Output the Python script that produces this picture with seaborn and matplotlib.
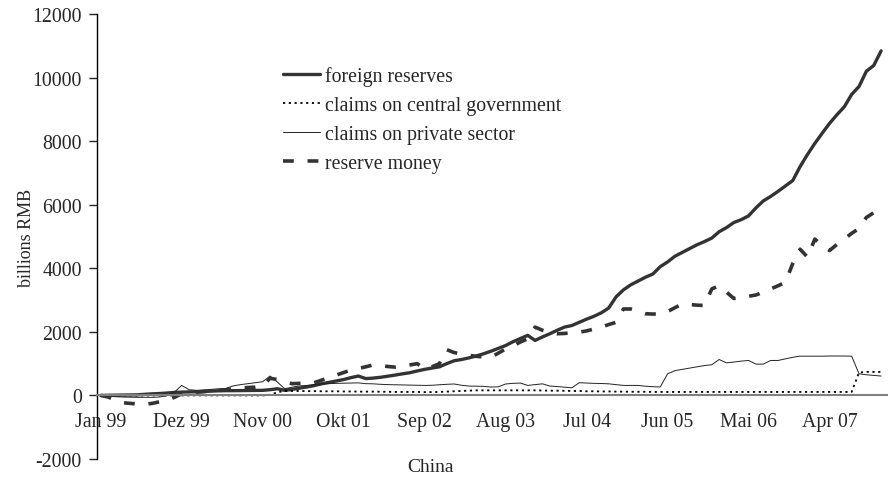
import numpy as np
import pandas as pd
import matplotlib
matplotlib.use("Agg")
import matplotlib.pyplot as plt
import seaborn as sns

# monthly data Jan 99 .. Nov 07, billions RMB
foreign_reserves = [
    0, 5, 8, 12, 15, 20, 35, 50, 60, 75, 95, 105, 110, 115, 125, 135, 145, 150,
    150, 152, 155, 158, 160, 180, 210, 160, 190, 230, 265, 310, 365, 410, 455, 500,
    560, 610, 530, 545, 570, 605, 640, 680, 715, 770, 820, 860, 900, 1000, 1090, 1130,
    1180, 1240, 1310, 1390, 1480, 1570, 1690, 1790, 1890, 1730, 1840, 1940, 2050, 2150,
    2200, 2300, 2400, 2490, 2600, 2750, 3100, 3320, 3480, 3600, 3720, 3820, 4050, 4200,
    4380, 4500, 4620, 4740, 4840, 4950, 5150, 5280, 5440, 5530, 5650, 5900, 6120, 6260,
    6420, 6590, 6760, 7200, 7580, 7930, 8250, 8560, 8830, 9080, 9470, 9720, 10200, 10380,
    10840]
claims_central_gov = [
    0, 0, 0, 0, 0, 0, 0, 0, 0, 0, 0, 0, 0, 0, 0, 0, 0, 0,
    0, 0, 0, 0, 0, 20, 100, 140, 140, 140, 135, 135, 130, 130, 130, 125, 125, 120,
    120, 120, 115, 115, 110, 110, 110, 110, 105, 105, 110, 120, 130, 140, 150, 160,
    160, 160, 160, 160, 160, 160, 160, 160, 155, 150, 150, 145, 140, 140, 130, 130,
    125, 125, 120, 120, 115, 115, 115, 110, 110, 110, 110, 110, 110, 110, 110, 110,
    110, 110, 110, 110, 110, 110, 110, 110, 110, 110, 110, 110, 110, 110, 110, 110,
    110, 110, 110, 720, 740, 740, 740]
claims_private = [
    0, -20, -40, -50, -55, -60, -60, -60, -50, -10, 100, 315, 180, 160, 170, 190, 210, 220,
    300, 340, 370, 400, 430, 610, 420, 210, 260, 300, 315, 340, 365, 370, 380, 385,
    390, 395, 370, 365, 350, 340, 335, 330, 325, 320, 315, 320, 335, 350, 360, 320,
    295, 290, 285, 265, 270, 360, 380, 390, 315, 340, 365, 295, 280, 260, 240, 400,
    390, 380, 375, 365, 340, 315, 315, 315, 290, 275, 265, 680, 780, 820, 860, 900,
    940, 965, 1130, 1025, 1050, 1080, 1100, 985, 985, 1100, 1100, 1150, 1200, 1235, 1235, 1235,
    1235, 1240, 1240, 1240, 1235, 680, 650, 630, 610]
reserve_money = [
    0, -50, -150, -230, -250, -270, -280, -250, -200, -155, -60, 50, 80, 100, 120, 140, 150, 180,
    210, 230, 250, 260, 300, 540, 500, 430, 370, 380, 390, 400, 480, 560, 640, 720,
    800, 850, 900, 960, 940, 910, 890, 920, 960, 1000, 820, 900, 1000, 1440, 1350, 1300,
    1260, 1230, 1210, 1200, 1330, 1460, 1560, 1680, 1780, 2150, 2050, 1980, 1940, 1950,
    1970, 1990, 2030, 2090, 2150, 2230, 2300, 2720, 2720, 2650, 2570, 2560, 2565, 2640,
    2760, 2880, 2860, 2840, 2830, 3350, 3450, 3250, 3050, 3080, 3120, 3160, 3250, 3350,
    3450, 3560, 4150, 4600, 4350, 4920, 4700, 4560, 4750, 4920, 5100, 5250, 5600, 5750,
    6070]

tick_labels = ['Jan 99', 'Dez 99', 'Nov 00', 'Okt 01', 'Sep 02', 'Aug 03',
               'Jul 04', 'Jun 05', 'Mai 06', 'Apr 07']
tick_idx = np.arange(len(tick_labels)) * 11

sns.set_style("white")
plt.rcParams['font.family'] = ['Liberation Serif', 'DejaVu Serif']
plt.rcParams['axes.unicode_minus'] = False

month = np.arange(len(foreign_reserves))
df = pd.DataFrame({
    'month': month,
    'foreign reserves': foreign_reserves,
    'claims on central government': claims_central_gov,
    'claims on private sector': claims_private,
    'reserve money': reserve_money,
})

fig = plt.figure(figsize=(8.89, 4.81), dpi=100)
ax = fig.add_axes([97 / 889, 21 / 481, 790 / 889, 445 / 481])

dark = '#333333'
sns.lineplot(data=df, x='month', y='foreign reserves', ax=ax, color=dark,
             linewidth=2.4, label='foreign reserves')
sns.lineplot(data=df, x='month', y='claims on central government', ax=ax, color='black',
             linewidth=1.3, linestyle=(0, (1.2, 2.0)), label='claims on central government')
sns.lineplot(data=df, x='month', y='claims on private sector', ax=ax, color='#222222',
             linewidth=0.7, label='claims on private sector')
sns.lineplot(data=df, x='month', y='reserve money', ax=ax, color=dark,
             linewidth=2.6, linestyle=(0, (3, 3.8)), label='reserve money')

ax.set_xlim(-0.5, 106.8)
ax.set_ylim(-2000, 12000)
ax.set_yticks(range(-2000, 12001, 2000))
ax.set_xticks(tick_idx)
ax.set_xticklabels(tick_labels)
ax.set_xticks(tick_idx[1:] - 0.5, minor=True)
ax.tick_params(axis='x', which='major', length=0, pad=12, labelsize=14.3)
ax.tick_params(axis='x', which='minor', length=6, width=1, color='#808080', direction='out')
ax.tick_params(axis='y', length=6, width=1, direction='out', pad=5, labelsize=14.3, left=True)

ax.spines['top'].set_visible(False)
ax.spines['right'].set_visible(False)
ax.spines['bottom'].set_position(('data', 0))
ax.spines['bottom'].set_color('#808080')
ax.spines['bottom'].set_linewidth(1.5)
ax.spines['left'].set_color('black')
ax.spines['left'].set_linewidth(1)
ax.set_xlabel('')
ax.set_ylabel('')

fig.text(27 / 889, 1 - 238 / 481, 'billions RMB', rotation=90, ha='center', va='center', fontsize=13)
fig.text(431 / 889, 1 - 468 / 481, 'China', ha='center', va='center', fontsize=14)

ax.legend(loc='upper left', bbox_to_anchor=(283 / 889, 1 - 67 / 481),
          bbox_transform=fig.transFigure, frameon=False, fontsize=14.3,
          handlelength=1.85, handletextpad=0.25, labelspacing=0.5, borderpad=0,
          borderaxespad=0)

fig.savefig('out.png', dpi=100)
